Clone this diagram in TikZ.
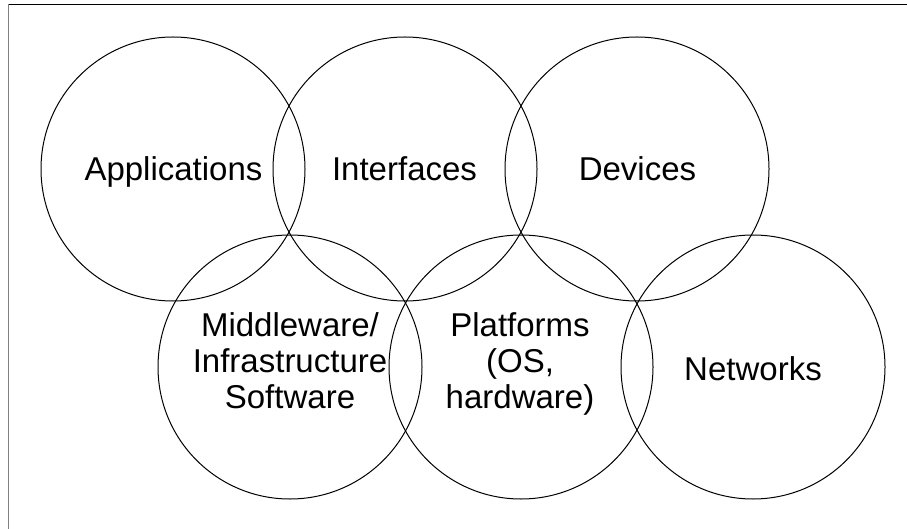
\documentclass[tikz,border=0pt]{standalone}
\usepackage{fontspec}
\setmainfont{Liberation Sans}
\begin{document}
\begin{tikzpicture}[x=1pt,y=-1pt,
  ring/.style={draw=black,line width=1pt},
  lbl/.style={anchor=base,align=center,inner sep=0pt,font=\fontsize{33}{36}\selectfont}]
\useasboundingbox (0,0) rectangle (907,529);
\fill[white] (0,0) rectangle (907,529);
% frame (top and left edges only)
\coordinate (tl) at (8.5,4.3);
\coordinate (tr) at (907,4.3);
\coordinate (bl) at (8.5,529);
\draw[black,line width=1.1pt] (tl) -- (tr);
\draw[gray,line width=1.1pt] (tl) -- (bl);
% circles
\node[ring,circle,minimum size=264pt,inner sep=0pt] (app) at (173,169) {};
\node[ring,circle,minimum size=264pt,inner sep=0pt] (int) at (405,169) {};
\node[ring,circle,minimum size=264pt,inner sep=0pt] (dev) at (637,169) {};
\node[ring,circle,minimum size=264pt,inner sep=0pt] (mid) at (290,367) {};
\node[ring,circle,minimum size=264pt,inner sep=0pt] (pla) at (521,367) {};
\node[ring,circle,minimum size=264pt,inner sep=0pt] (net) at (753,367) {};
% labels
\node[lbl] (tapp) at (173.5,181) {Applications};
\node[lbl] (tint) at (404.5,181) {Interfaces};
\node[lbl] (tdev) at (637.5,181) {Devices};
\node[lbl] (tmid) at (290,408) {Middleware/\\Infrastructure\\Software};
\node[lbl] (tpla) at (520,408) {Platforms\\(OS,\\hardware)};
\node[lbl] (tnet) at (753,380) {Networks};
\end{tikzpicture}
\end{document}
